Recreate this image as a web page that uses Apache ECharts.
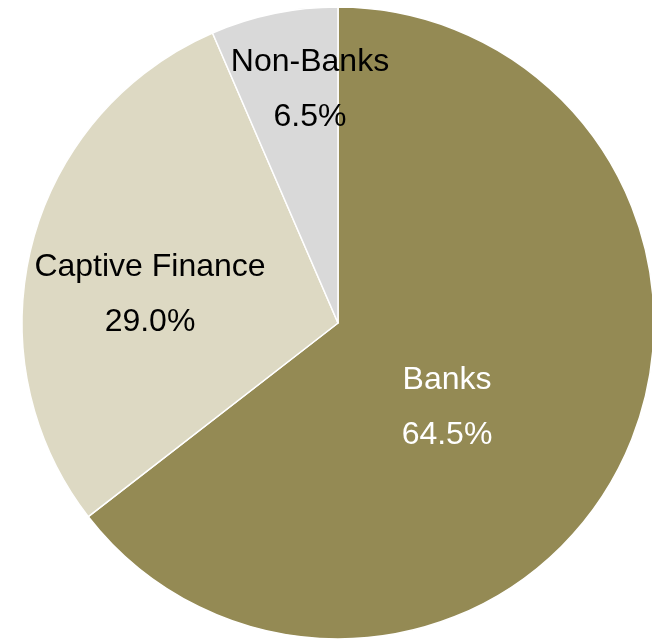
<!DOCTYPE html>
<html>
<head>
<meta charset="utf-8">
<script src="https://cdn.jsdelivr.net/npm/echarts@6/dist/echarts.min.js"></script>
<style>
  html, body { margin: 0; padding: 0; background: #ffffff; }
  #chart { width: 652px; height: 639px; }
</style>
</head>
<body>
<div id="chart"></div>
<script>
// Market share by lender type (percent)
const categories = ['Banks', 'Captive Finance', 'Non-Banks'];
const shares = [64.5, 29.0, 6.5];
const sliceColors = ['#948A54', '#DDD9C3', '#D9D9D9'];
const labelColors = ['#ffffff', '#000000', '#000000'];
// Label anchor points (px) for each slice
const labelSpots = [[447, 408], [150, 295], [310, 90]];

const chart = echarts.init(document.getElementById('chart'), null, { renderer: 'canvas' });

chart.setOption({
  animation: false,
  backgroundColor: '#ffffff',
  series: [{
    type: 'pie',
    center: [338, 323],
    radius: 316,
    startAngle: 90,
    clockwise: true,
    avoidLabelOverlap: false,
    data: categories.map((name, i) => ({
      name,
      value: shares[i],
      itemStyle: { color: sliceColors[i] },
      label: { color: labelColors[i] }
    })),
    itemStyle: { borderColor: '#ffffff', borderWidth: 1.5 },
    label: {
      show: true,
      position: 'inside',
      fontFamily: 'Liberation Sans, Arial, sans-serif',
      fontSize: 32,
      lineHeight: 55,
      align: 'center',
      formatter: p => p.name + '\n' + p.value.toFixed(1) + '%'
    },
    labelLine: { show: false },
    labelLayout: params => {
      const s = labelSpots[params.dataIndex];
      return { x: s[0], y: s[1], align: 'center', verticalAlign: 'middle' };
    },
    emphasis: { disabled: true }
  }]
});
</script>
</body>
</html>
